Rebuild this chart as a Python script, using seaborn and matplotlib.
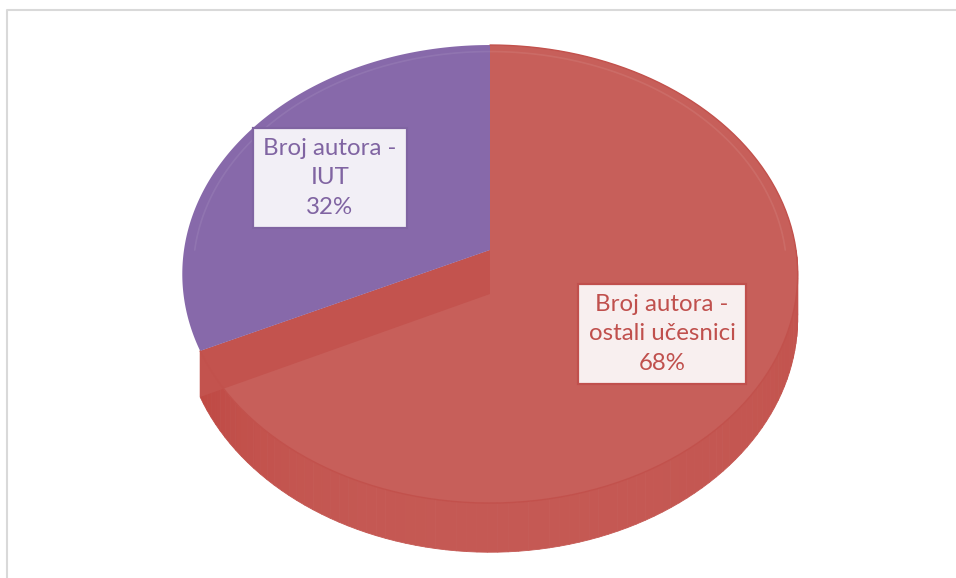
"""Excel-style 3-D pie: share of authors (IUT vs other participants)."""

import numpy as np
import matplotlib

matplotlib.use("Agg")
import matplotlib.pyplot as plt
from matplotlib.patches import Polygon
import seaborn as sns


SERIES_NAME = "Broj autora"
CATEGORIES = ["ostali učesnici", "IUT"]
SHARES = [68, 32]
FACE_COLORS = ["#C75F5A", "#8769AA"]
TEXT_COLORS = ["#C0504D", "#8064A2"]
BOX_COLORS = ["#F8EFEF", "#F2EFF6"]

# layout of the tilted disc, in pixels of the 956x578 canvas
CENTER = (490, 250)
RADIUS_X = 306
RADIUS_Y = 226.5
PERSPECTIVE = 0.105
DEPTH = 44
LABEL_CENTERS = [(662, 334), (330, 178)]


def project(theta, radius=1.0, level=0.0):
    """Map angle (clockwise from 12 o'clock), radius and depth to pixels."""
    theta = np.atleast_1d(theta)
    scale = 1.0 / (1.0 + PERSPECTIVE * radius * np.cos(theta))
    x = CENTER[0] + RADIUS_X * radius * np.sin(theta) * scale
    y = CENTER[1] - RADIUS_Y * radius * np.cos(theta) * scale + level * DEPTH * scale
    return np.column_stack([x, y])


def shade(color, lightness):
    return sns.set_hls_values(color, l=lightness)


sns.set_theme(style="white")
plt.rcParams["font.family"] = ["Lato", "DejaVu Sans"]

figure = plt.figure(figsize=(9.56, 5.78), dpi=100)
axis = figure.add_axes([0, 0, 1, 1])
axis.set_xlim(0, 956)
axis.set_ylim(578, 0)
axis.axis("off")

fractions = np.array(SHARES, dtype=float) / sum(SHARES)
edges = np.concatenate([[0.0], np.cumsum(fractions)]) * 2 * np.pi

# outer side wall of the front half (only the large slice shows one)
red = FACE_COLORS[0]
steps = np.linspace(np.pi / 2, edges[1], 90)
for left, right in zip(steps[:-1], steps[1:]):
    middle = 0.5 * (left + right)
    light = 0.53 + 0.02 * np.cos(middle - np.pi) - 0.05 * max(0, np.sin(middle - np.pi)) ** 4
    light -= 0.05 * max(0, np.cos(middle)) ** 2
    quad = np.vstack([project([left, right], 1, 0), project([right, left], 1, 1)])
    axis.add_patch(Polygon(quad, closed=True, facecolor=shade(red, light),
                           edgecolor=shade(red, light), linewidth=0.6))

# top face of the large slice
rim = project(np.linspace(edges[0], edges[1], 240))
axis.add_patch(Polygon(np.vstack([project(0, 0), rim]), closed=True,
                       facecolor=red, edgecolor="none"))
axis.plot(rim[:, 0], rim[:, 1], color=shade(red, 0.53), linewidth=1.0)

# cut face at the end of the large slice
cut = edges[1]
quad = np.vstack([project(cut, 0, 0), project(cut, 1, 0),
                  project(cut, 1, 1), project(cut, 0, 1)])
axis.add_patch(Polygon(quad, closed=True, facecolor=shade(red, 0.535),
                       edgecolor="none"))

# top face of the small slice
rim = project(np.linspace(edges[1], edges[2], 240))
axis.add_patch(Polygon(np.vstack([project(0, 0), rim]), closed=True,
                       facecolor=FACE_COLORS[1], edgecolor="none"))

# faint bevel highlight near the rim
bevel = project(np.linspace(-0.5 * np.pi, 0.5 * np.pi, 200), 0.965)
axis.plot(bevel[:, 0], bevel[:, 1], color="white", alpha=0.08, linewidth=1.2)

# data labels
for index, category in enumerate(CATEGORIES):
    text = f"{SERIES_NAME} -\n{category}\n{SHARES[index]}%"
    x, y = LABEL_CENTERS[index]
    axis.text(x, y, text, ha="center", va="center", multialignment="center",
              fontsize=17.3, color=TEXT_COLORS[index], linespacing=1.49,
              bbox=dict(boxstyle="square,pad=0.42", facecolor=BOX_COLORS[index],
                        edgecolor=TEXT_COLORS[index], linewidth=1.6))

# chart area frame (top and left edges visible)
axis.plot([7, 7, 956], [578, 9.5, 9.5], color="#D9D9D9", linewidth=1.5)

figure.savefig("out.png", dpi=100)
plt.close(figure)
